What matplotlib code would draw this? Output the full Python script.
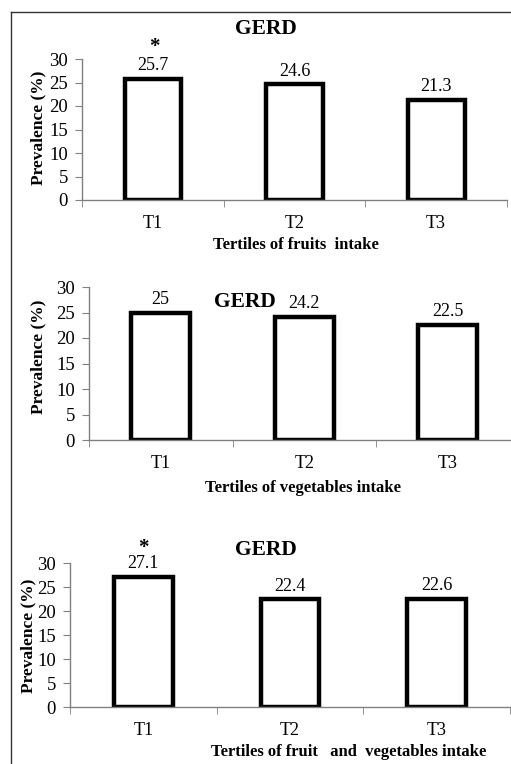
import matplotlib.pyplot as plt
import numpy as np
from matplotlib.lines import Line2D

plt.rcParams['font.family'] = ['Liberation Serif', 'DejaVu Serif']

cats = ['T1', 'T2', 'T3']
fruits = [25.7, 24.6, 21.3]
vegetables = [25, 24.2, 22.5]
fruit_veg = [27.1, 22.4, 22.6]

xlabels = ['Tertiles of fruits  intake',
           'Tertiles of vegetables intake',
           'Tertiles of fruit   and  vegetables intake']
stars = [True, False, True]

W, H = 511, 764


def px(x, y):
    return x / W, 1 - y / H


def draw_panel(fig, rect, vals, bar_w):
    ax = fig.add_axes(rect)
    ind = np.arange(len(cats))
    ax.bar(ind, vals, bar_w, color='white', edgecolor='black', linewidth=3.2)
    for i, v in enumerate(vals):
        ax.annotate(f'{v:g}', (i, v), xytext=(0, 3.5), textcoords='offset points',
                    ha='center', va='bottom', fontsize=13)
    ax.set_xlim(-0.5, 2.5)
    ax.set_ylim(0, 30)
    ax.set_yticks(range(0, 31, 5))
    ax.set_xticks(ind)
    ax.set_xticklabels(cats)
    ax.set_xticks([-0.5, 0.5, 1.5, 2.5], minor=True)
    ax.tick_params(axis='x', which='major', length=0, labelsize=13, pad=11)
    ax.tick_params(axis='x', which='minor', length=5, color='#808080', direction='out')
    ax.tick_params(axis='y', length=5, color='#808080', labelsize=13.5, pad=5)
    for s in ['top', 'right']:
        ax.spines[s].set_visible(False)
    for s in ['left', 'bottom']:
        ax.spines[s].set_color('#808080')
        ax.spines[s].set_linewidth(1)
    return ax


fig = plt.figure(figsize=(W / 100, H / 100), dpi=100)

# panel boxes in pixels: left, right, y of 0, y of 30
panels = [(82, 507, 200, 59, fruits, 0.40),
          (89, 519.5, 440, 287, vegetables, 0.41),
          (70, 510, 707, 563, fruit_veg, 0.40)]
titles = [(266, 29), (245, 302), (266, 550)]
xlab_pos = [(296, 245), (303, 488), (349, 752)]
ylab_pos = [(38, 128), (38, 357), (28, 636)]
star_pos = [(154, 47), None, (143, 548)]

for k, (l, r, y0, y30, vals, bw) in enumerate(panels):
    rect = [l / W, 1 - y0 / H, (r - l) / W, (y0 - y30) / H]
    draw_panel(fig, rect, vals, bw)
    fig.text(*px(*titles[k]), 'GERD', ha='center', va='center',
             fontsize=15.5, fontweight='bold')
    fig.text(*px(*xlab_pos[k]), xlabels[k], ha='center', va='center',
             fontsize=12, fontweight='bold')
    fig.text(*px(*ylab_pos[k]), 'Prevalence (%)', ha='center', va='center',
             rotation=90, fontsize=12.5, fontweight='bold')
    if stars[k]:
        fig.text(*px(*star_pos[k]), '*', ha='center', va='center',
                 fontsize=15, fontweight='bold')

# outer frame (top and left edges visible)
fig.add_artist(Line2D([11 / W, 1], [1 - 12 / H, 1 - 12 / H], color='#333333', lw=1,
                      transform=fig.transFigure))
fig.add_artist(Line2D([11 / W, 11 / W], [0, 1 - 12 / H], color='#333333', lw=1,
                      transform=fig.transFigure))

fig.savefig('out.png', dpi=100)
